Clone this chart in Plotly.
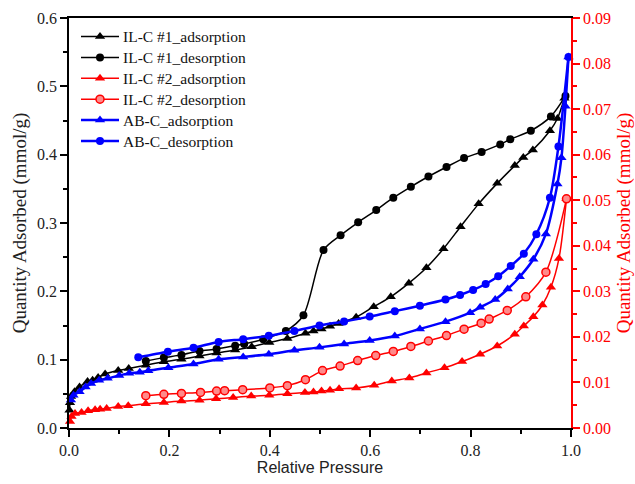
import plotly.graph_objects as go

# IL-C #1 (left axis, mmol/g)
il1_ads_p = [0.001, 0.002, 0.004, 0.011, 0.021, 0.037, 0.047, 0.058, 0.072, 0.098, 0.119,
             0.153, 0.189, 0.224, 0.260, 0.294, 0.331, 0.364, 0.399, 0.435, 0.471, 0.487,
             0.503, 0.520, 0.537, 0.572, 0.607, 0.641, 0.677, 0.712, 0.746, 0.780, 0.816,
             0.853, 0.888, 0.905, 0.924, 0.958, 0.973, 0.987]
il1_ads_q = [0.026, 0.037, 0.046, 0.053, 0.060, 0.068, 0.070, 0.074, 0.079, 0.084, 0.087,
             0.092, 0.097, 0.1005, 0.1054, 0.1098, 0.114, 0.119, 0.125, 0.131, 0.1385, 0.142,
             0.145, 0.149, 0.153, 0.162, 0.1775, 0.192, 0.212, 0.2346, 0.2624, 0.2946, 0.328,
             0.358, 0.384, 0.396, 0.407, 0.435, 0.453, 0.4825]
il1_des_p = [0.153, 0.189, 0.224, 0.260, 0.294, 0.331, 0.349, 0.387, 0.432, 0.467, 0.507,
             0.541, 0.576, 0.612, 0.646, 0.681, 0.716, 0.752, 0.787, 0.822, 0.859, 0.879,
             0.920, 0.960, 0.989]
il1_des_q = [0.098, 0.103, 0.107, 0.1127, 0.1156, 0.1205, 0.123, 0.130, 0.142, 0.165, 0.2605,
             0.282, 0.301, 0.319, 0.337, 0.353, 0.368, 0.382, 0.395, 0.404, 0.415, 0.4225,
             0.435, 0.456, 0.486]

# IL-C #2 (right axis, mmol/g)
il2_ads_p = [0.002, 0.005, 0.012, 0.025, 0.038, 0.052, 0.062, 0.075, 0.098, 0.118, 0.153,
             0.189, 0.224, 0.260, 0.293, 0.327, 0.363, 0.399, 0.435, 0.470, 0.487, 0.503,
             0.520, 0.538, 0.572, 0.608, 0.643, 0.678, 0.712, 0.748, 0.783, 0.819, 0.853,
             0.888, 0.906, 0.925, 0.943, 0.960, 0.976, 0.991]
il2_ads_q = [0.0014, 0.0025, 0.0032, 0.0034, 0.0038, 0.0040, 0.0041, 0.0043, 0.0047, 0.0049,
             0.0053, 0.0056, 0.0059, 0.0061, 0.0064, 0.0067, 0.0070, 0.0072, 0.0075, 0.0078,
             0.0079, 0.0081, 0.0083, 0.0086, 0.0088, 0.0094, 0.0103, 0.0110, 0.0121, 0.0132,
             0.0146, 0.0162, 0.0180, 0.0206, 0.0224, 0.0244, 0.0270, 0.0309, 0.0372, 0.0503]
il2_des_p = [0.153, 0.189, 0.224, 0.262, 0.294, 0.310, 0.346, 0.400, 0.435, 0.471, 0.505,
             0.540, 0.575, 0.611, 0.646, 0.681, 0.716, 0.752, 0.787, 0.821, 0.837, 0.873,
             0.910, 0.950, 0.991]
il2_des_q = [0.0071, 0.0074, 0.0076, 0.0078, 0.0081, 0.0082, 0.0084, 0.0088, 0.0093, 0.0106,
             0.0126, 0.0136, 0.0148, 0.0159, 0.0168, 0.0179, 0.0191, 0.0203, 0.0217, 0.0230,
             0.0239, 0.0258, 0.0288, 0.0342, 0.0503]

# AB-C (left axis, mmol/g)
ab_ads_p = [0.004, 0.009, 0.021, 0.033, 0.044, 0.060, 0.077, 0.100, 0.120, 0.141, 0.158,
            0.198, 0.248, 0.298, 0.347, 0.398, 0.449, 0.499, 0.548, 0.599, 0.649, 0.699,
            0.750, 0.799, 0.819, 0.849, 0.874, 0.898, 0.925, 0.950, 0.973, 0.981, 0.989, 0.995]
ab_ads_q = [0.041, 0.048, 0.053, 0.060, 0.065, 0.070, 0.0727, 0.0768, 0.080, 0.0815, 0.0839,
            0.0883, 0.0937, 0.1005, 0.1040, 0.108, 0.1137, 0.118, 0.123, 0.128, 0.1346, 0.145,
            0.1556, 0.1688, 0.1766, 0.188, 0.2034, 0.2214, 0.247, 0.284, 0.357, 0.3956, 0.471, 0.543]
ab_des_p = [0.138, 0.197, 0.248, 0.298, 0.347, 0.398, 0.449, 0.499, 0.548, 0.599, 0.649,
            0.699, 0.750, 0.779, 0.805, 0.830, 0.855, 0.880, 0.906, 0.931, 0.958, 0.975, 0.995]
ab_des_q = [0.1035, 0.1117, 0.1175, 0.126, 0.130, 0.135, 0.142, 0.150, 0.156, 0.163, 0.171,
            0.179, 0.188, 0.1946, 0.202, 0.2107, 0.222, 0.237, 0.255, 0.2835, 0.337, 0.412, 0.543]

BLACK, RED, BLUE = "#000000", "#ff0000", "#0000ff"
SERIF = "Liberation Serif, Times New Roman, serif"
SANS = "Liberation Sans, Arial, sans-serif"

# name, x, y, colour, symbol, y axis, line width
series = [
    ("IL-C #1_adsorption", il1_ads_p, il1_ads_q, BLACK, "triangle-up", "y", 1.5),
    ("IL-C #1_desorption", il1_des_p, il1_des_q, BLACK, "circle", "y", 1.5),
    ("IL-C #2_adsorption", il2_ads_p, il2_ads_q, RED, "triangle-up", "y2", 1.5),
    ("IL-C #2_desorption", il2_des_p, il2_des_q, RED, "circle", "y2", 1.5),
    ("AB-C_adsorption", ab_ads_p, ab_ads_q, BLUE, "triangle-up", "y", 2.5),
    ("AB-C_desorption", ab_des_p, ab_des_q, BLUE, "circle", "y", 2.5),
]


def marker_style(color, sym):
    if color == RED and sym == "circle":
        return dict(symbol="circle", size=8, color="#ff8a8a", line=dict(color=RED, width=1.5))
    return dict(symbol=sym, size=8 if sym == "circle" else 9, color=color,
                line=dict(color=color, width=0))


fig = go.Figure()
for name, px, qy, color, sym, yax, lw in series:
    fig.add_trace(go.Scatter(
        x=px, y=qy, name=name, yaxis=yax, mode="lines+markers",
        line=dict(color=color, width=lw, shape="spline", smoothing=0.8),
        marker=marker_style(color, sym), cliponaxis=False, showlegend=False,
    ))

# Legend block drawn on a hidden pixel-unit overlay (x: 69..571, y: 18..428 from top)
KEY_X0, KEY_X1, KEY_MID, TEXT_X = 81, 119, 100, 121
ROW_Y0, ROW_STEP = 36.5, 20.9
annotations = []
for i, (name, px, qy, color, sym, yax, lw) in enumerate(series):
    ry = ROW_Y0 + i * ROW_STEP
    fig.add_trace(go.Scatter(
        x=[KEY_X0, KEY_X1], y=[ry, ry], xaxis="x3", yaxis="y3", mode="lines",
        line=dict(color=color, width=lw), showlegend=False, hoverinfo="skip", cliponaxis=False,
    ))
    fig.add_trace(go.Scatter(
        x=[KEY_MID], y=[ry], xaxis="x3", yaxis="y3", mode="markers",
        marker=marker_style(color, sym), showlegend=False, hoverinfo="skip", cliponaxis=False,
    ))
    annotations.append(dict(
        x=TEXT_X, y=ry, xref="x3", yref="y3", text=name, showarrow=False,
        xanchor="left", yanchor="middle", font=dict(family=SERIF, size=15.5, color="#111"),
    ))

tick_common = dict(ticks="outside", ticklen=7, tickwidth=1.5, showgrid=False, zeroline=False,
                   showline=True, linewidth=1.5, automargin=False)

fig.update_layout(
    width=635, height=484,
    margin=dict(l=69, r=64, t=18, b=56),
    paper_bgcolor="white", plot_bgcolor="white",
    showlegend=False,
    annotations=annotations,
    xaxis=dict(range=[0, 1.0], dtick=0.2, tickformat=".1f", linecolor=BLACK, tickcolor=BLACK,
               mirror=True,
               tickfont=dict(family=SERIF, size=16, color="#222"),
               minor=dict(dtick=0.1, ticks="outside", ticklen=4, tickcolor=BLACK, tickwidth=1.5),
               title=dict(text="Relative Pressure", font=dict(family=SANS, size=16, color="#222"),
                          standoff=3),
               **tick_common),
    yaxis=dict(range=[0, 0.6], dtick=0.1, tickformat=".1f", linecolor=BLACK, tickcolor=BLACK,
               tickfont=dict(family=SERIF, size=16, color="#222"),
               minor=dict(dtick=0.05, ticks="outside", ticklen=4, tickcolor=BLACK, tickwidth=1.5),
               title=dict(text="Quantity Adsorbed (mmol/g)", font=dict(family=SERIF, size=19, color="#222"),
                          standoff=5),
               **tick_common),
    yaxis2=dict(range=[0, 0.09], dtick=0.01, tickformat=".2f", overlaying="y", side="right",
                linecolor=RED, tickcolor=RED,
                tickfont=dict(family=SERIF, size=16, color=RED),
                minor=dict(dtick=0.005, ticks="outside", ticklen=4, tickcolor=RED, tickwidth=1.5),
                title=dict(text="Quantity Adsorbed (mmol/g)", font=dict(family=SERIF, size=19, color=RED),
                           standoff=10),
                **tick_common),
    xaxis3=dict(range=[69, 571], overlaying="x", anchor="y3", visible=False, fixedrange=True),
    yaxis3=dict(range=[428, 18], overlaying="y", anchor="x3", visible=False, fixedrange=True),
)

fig.write_html("out.html")
